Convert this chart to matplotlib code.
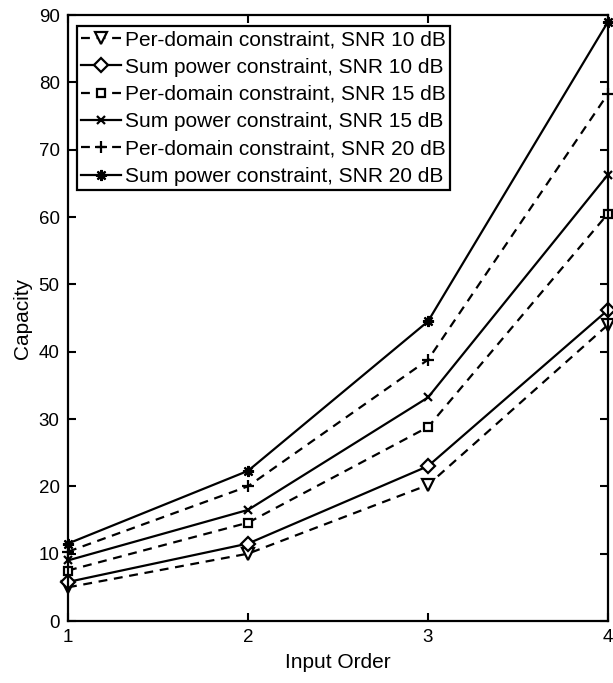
import matplotlib
matplotlib.use("Agg")
import matplotlib.pyplot as plt

plt.rcParams['font.family'] = ['Liberation Sans', 'DejaVu Sans']

order = [1, 2, 3, 4]

pd_10 = [5.0, 10.0, 20.2, 44.0]
sp_10 = [5.8, 11.5, 23.0, 46.2]
pd_15 = [7.5, 14.6, 28.8, 60.5]
sp_15 = [9.0, 16.5, 33.2, 66.3]
pd_20 = [10.3, 20.0, 38.8, 78.3]
sp_20 = [11.5, 22.3, 44.5, 89.0]

labels = [
    "Per-domain constraint, SNR 10 dB",
    "Sum power constraint, SNR 10 dB",
    "Per-domain constraint, SNR 15 dB",
    "Sum power constraint, SNR 15 dB",
    "Per-domain constraint, SNR 20 dB",
    "Sum power constraint, SNR 20 dB",
]

series = [pd_10, sp_10, pd_15, sp_15, pd_20, sp_20]
styles = [
    ("--", "v", 8),
    ("-", "D", 7),
    ("--", "s", 5.5),
    ("-", "x", 6),
    ("--", "+", 8),
    ("-", (8, 2, 0), 8),
]

W, H = 613, 683
fig = plt.figure(figsize=(W / 100, H / 100), dpi=100)
ax = fig.add_axes([68 / W, 1 - 621 / H, 540 / W, 606 / H])

for vals, lab, (ls, mk, ms) in zip(series, labels, styles):
    ax.plot(order, vals, color="black", linestyle=ls, linewidth=1.6,
            marker=mk, markersize=ms, markerfacecolor="white",
            markeredgecolor="black", markeredgewidth=1.6,
            label=lab, clip_on=False, dashes=(4, 3) if ls == "--" else ())

ax.set_xlim(1, 4)
ax.set_ylim(0, 90)
ax.set_xticks([1, 2, 3, 4])
ax.set_yticks(range(0, 91, 10))
ax.tick_params(direction="in", top=True, right=True, labelsize=13.5, length=6,
               width=1.5, pad=6)
for s in ax.spines.values():
    s.set_linewidth(1.6)

ax.set_xlabel("Input Order", fontsize=15, labelpad=5)
ax.set_ylabel("Capacity", fontsize=15, labelpad=5)

leg = ax.legend(loc="upper left", fontsize=15, frameon=True, fancybox=False,
                edgecolor="black", framealpha=1, handlelength=1.9,
                handletextpad=0.2, borderpad=0.2, labelspacing=0.4,
                borderaxespad=0.0, bbox_to_anchor=(9 / 540, 1 - 11 / 606))
leg.get_frame().set_linewidth(1.6)

fig.savefig("out.png", dpi=100)
